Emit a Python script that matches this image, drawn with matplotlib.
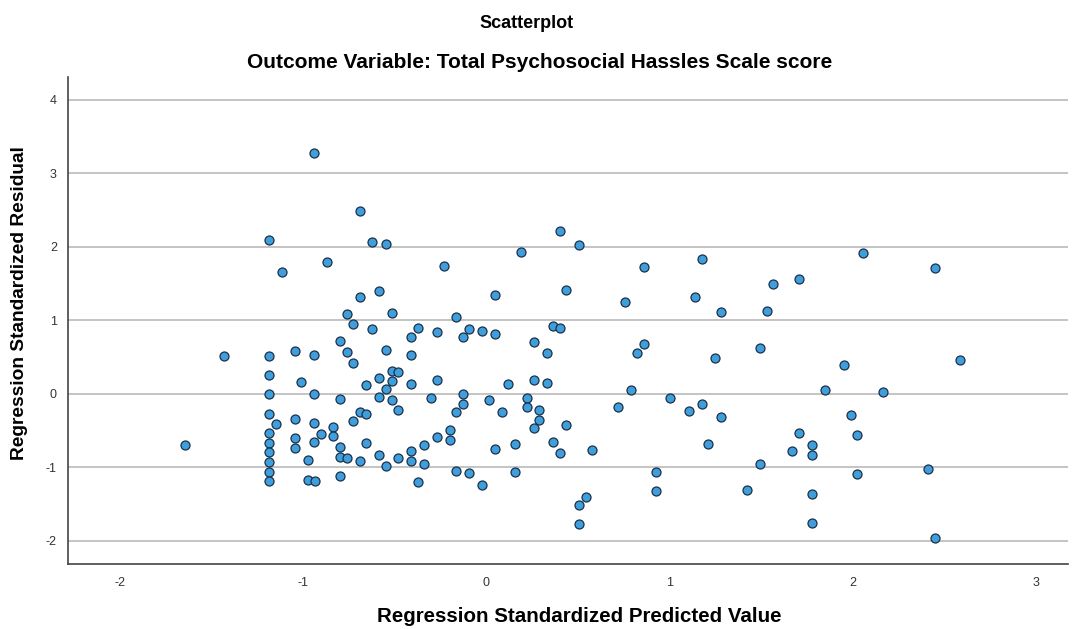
import matplotlib.pyplot as plt
import numpy as np

OUT_FILE = "out.png"

TITLE = "Scatterplot"
SUBTITLE = "Outcome Variable: Total Psychosocial Hassles Scale score"
X_LABEL = "Regression Standardized Predicted Value"
Y_LABEL = "Regression Standardized Residual"

X_TICKS = [-2, -1, 0, 1, 2, 3]
Y_TICKS = [-2, -1, 0, 1, 2, 3, 4]

# standardized predicted value
PRED = [
    -0.938, -0.689, -1.184, -0.866, -1.111, -0.689, -0.760, -0.727, -0.797, -0.760,
    -1.429, -1.184, -1.044, -0.938, -0.727, -1.184, -1.008, -1.184, -0.938, -0.797,
    -0.727, -1.184, -1.148, -1.044, -0.938, -0.833, -0.902, -0.833, -1.184, -1.184,
    -1.184, -1.184, -1.184, -1.184, -1.044, -1.044, -0.938, -0.797, -0.797, -0.760,
    -0.971, -0.971, -0.935, -0.797, -1.640, -0.620, -0.547, 0.191, -0.231, -0.584,
    0.049, -0.514, -0.162, -0.620, -0.373, -0.409, -0.267, -0.091, -0.125, -0.020,
    0.049, 0.262, -0.547, -0.409, -0.514, -0.478, -0.584, -0.514, -0.655, -0.409,
    -0.267, -0.547, 0.120, 0.262, -0.584, -0.514, -0.302, -0.125, -0.125, 0.015,
    0.225, 0.225, 0.290, -0.478, -0.162, 0.085, -0.689, -0.655, 0.290, 0.262,
    -0.196, -0.196, -0.267, -0.337, -0.409, -0.409, -0.337, -0.478, -0.584, -0.547,
    -0.689, -0.655, 0.049, 0.156, -0.373, -0.162, -0.091, -0.020, 0.156, 0.402,
    0.509, 0.860, 1.177, 0.438, 0.757, 1.142, 1.282, 0.366, 0.404, 0.335,
    0.860, 0.826, 1.249, 0.335, 0.791, 0.438, 0.366, 0.404, 0.578, 0.718,
    1.002, 1.107, 1.177, 1.282, 1.213, 0.929, 0.929, 0.546, 0.509, 0.509,
    1.564, 1.706, 1.531, 2.058, 2.448, 1.495, 1.953, 2.588, 1.848, 2.164,
    1.990, 1.706, 2.024, 1.777, 1.669, 1.777, 1.495, 2.024, 2.411, 1.426,
    1.777, 1.777, 2.448,
]

# standardized residual, same order
RESID = [
    3.275, 2.490, 2.095, 1.800, 1.656, 1.324, 1.093, 0.948, 0.721, 0.571,
    0.517, 0.517, 0.576, 0.526, 0.417, 0.258, 0.163, 0.000, 0.000, -0.073,
    -0.367, -0.272, -0.417, -0.340, -0.395, -0.449, -0.549, -0.580, -0.535, -0.671,
    -0.798, -0.925, -1.061, -1.193, -0.608, -0.739, -0.658, -0.726, -0.862, -0.875,
    -0.898, -1.170, -1.184, -1.116, -0.698, 2.072, 2.036, 1.928, 1.746, 1.397,
    1.342, 1.102, 1.052, 0.889, 0.902, 0.780, 0.844, 0.884, 0.776, 0.857,
    0.821, 0.712, 0.594, 0.526, 0.313, 0.295, 0.222, 0.177, 0.122, 0.132,
    0.186, 0.064, 0.132, 0.186, -0.045, -0.082, -0.059, -0.004, -0.141, -0.082,
    -0.059, -0.186, -0.222, -0.227, -0.254, -0.249, -0.249, -0.272, -0.358, -0.467,
    -0.499, -0.630, -0.594, -0.694, -0.785, -0.921, -0.957, -0.880, -0.834, -0.980,
    -0.912, -0.667, -0.757, -0.680, -1.206, -1.048, -1.079, -1.247, -1.070, 2.218,
    2.027, 1.728, 1.832, 1.410, 1.252, 1.324, 1.116, 0.925, 0.898, 0.549,
    0.680, 0.562, 0.481, 0.150, 0.054, -0.431, -0.658, -0.803, -0.762, -0.177,
    -0.054, -0.240, -0.145, -0.322, -0.680, -1.066, -1.329, -1.401, -1.515, -1.773,
    1.501, 1.560, 1.125, 1.914, 1.719, 0.617, 0.390, 0.467, 0.050, 0.023,
    -0.286, -0.535, -0.562, -0.703, -0.785, -0.834, -0.952, -1.088, -1.020, -1.315,
    -1.361, -1.755, -1.959,
]

W, H = 1075, 629


def main() -> None:
    plt.rcParams["font.family"] = ["Liberation Sans", "DejaVu Sans"]
    plt.rcParams["axes.unicode_minus"] = False
    fig = plt.figure(figsize=(W / 100, H / 100), dpi=100)
    ax = fig.add_axes([68 / W, 1 - 564 / H, 1000 / W, (564 - 77) / H])

    ax.scatter(PRED, RESID, s=42, facecolor="#3f9fdc", edgecolor="#1c3048",
               linewidth=0.9, zorder=3)

    ax.set_xlim(-2.281, 3.175)
    ax.set_ylim(-2.317, 4.313)
    ax.set_xticks(X_TICKS)
    ax.set_yticks(Y_TICKS)
    ax.tick_params(length=0, labelsize=9, colors="#333333", pad=8)
    ax.tick_params(axis="x", pad=9)

    ax.grid(axis="y", color="#b4b4b4", linewidth=1.1)
    ax.set_axisbelow(True)
    for side in ("top", "right"):
        ax.spines[side].set_visible(False)
    for side in ("left", "bottom"):
        ax.spines[side].set_color("#444444")
        ax.spines[side].set_linewidth(1.2)

    # axis titles placed where the reference has them
    fig.text(579 / W, 1 - 617 / H, X_LABEL, ha="center", va="center",
             fontsize=14.8, fontweight="bold")
    fig.text(20 / W, 1 - 303 / H, Y_LABEL, ha="center", va="center",
             rotation=90, fontsize=13.8, fontweight="bold")

    fig.text(527 / W, 1 - 23 / H, TITLE, ha="center", va="center",
             fontsize=13, fontweight="bold")
    fig.text(540 / W, 1 - 62 / H, SUBTITLE, ha="center", va="center",
             fontsize=15, fontweight="bold")

    fig.savefig(OUT_FILE, dpi=100)
    plt.close(fig)


if __name__ == "__main__":
    main()
